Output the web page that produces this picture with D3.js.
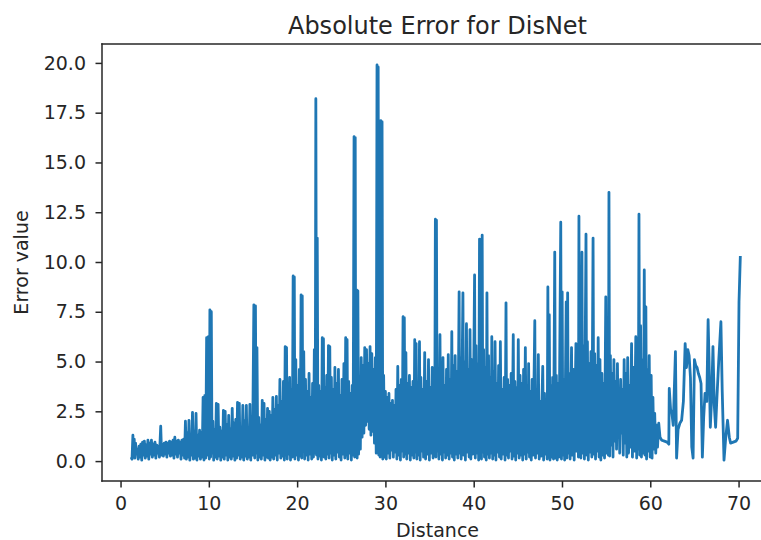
<!DOCTYPE html>
<html lang="en">
<head>
<meta charset="utf-8">
<title>Absolute Error for DisNet</title>
<script src="https://d3js.org/d3.v7.min.js"></script>
<style>
  html, body { margin: 0; padding: 0; overflow: hidden; background: #fff; }
  svg { display: block; }
  text { font-family: "DejaVu Sans", sans-serif; fill: #262626; }
</style>
</head>
<body>
<script>

// distance (x), in order
var distance = [
  // 1 - 7
  1.20,1.30,1.40,1.48,1.55,1.62,1.70,1.80,1.90,2.00,
  2.10,2.20,2.30,2.40,2.50,2.60,2.70,2.80,2.90,3.00,
  3.10,3.20,3.30,3.40,3.50,3.60,3.70,3.80,3.90,4.00,
  4.10,4.20,4.30,4.40,4.55,4.65,4.75,4.85,4.95,5.05,
  5.15,5.25,5.35,5.45,5.55,5.65,5.75,5.85,5.95,6.05,
  6.15,6.25,6.35,6.45,6.55,6.65,6.75,6.85,6.95,7.05,
  7.15,7.25,
  // 7 - 17
  7.35,7.45,7.55,7.65,7.75,7.85,7.95,8.05,8.15,8.25,
  8.35,8.45,8.55,8.65,8.75,8.85,8.95,9.05,9.15,9.25,
  9.35,9.45,9.55,9.65,9.75,9.85,9.95,10.05,10.12,10.20,
  10.28,10.36,10.45,10.55,10.65,10.75,10.85,10.95,11.05,11.15,
  11.25,11.35,11.45,11.55,11.65,11.75,11.85,11.95,12.05,12.15,
  12.25,12.35,12.45,12.55,12.65,12.75,12.85,12.95,13.05,13.15,
  13.25,13.35,13.45,13.55,13.65,13.75,13.85,13.95,14.05,14.15,
  14.25,14.35,14.45,14.55,14.65,14.75,14.85,14.95,15.10,15.20,
  15.28,15.36,15.45,15.55,15.65,15.75,15.85,15.95,16.05,16.15,
  16.25,16.35,16.45,16.55,16.65,16.75,16.85,16.95,
  // 17 - 27
  17.05,17.15,17.25,17.35,17.45,17.55,17.65,17.75,17.85,17.95,
  18.05,18.15,18.25,18.35,18.45,18.55,18.65,18.72,18.80,18.88,
  18.96,19.05,19.15,19.25,19.35,19.45,19.55,19.62,19.68,19.75,
  19.85,19.95,20.05,20.15,20.25,20.35,20.45,20.52,20.58,20.65,
  20.75,20.85,20.95,21.05,21.15,21.25,21.35,21.45,21.55,21.65,
  21.75,21.85,21.95,22.05,22.12,22.20,22.28,22.36,22.45,22.55,
  22.65,22.75,22.85,22.92,22.98,23.05,23.15,23.25,23.35,23.45,
  23.55,23.62,23.70,23.78,23.88,23.98,24.08,24.18,24.28,24.38,
  24.48,24.58,24.68,24.78,24.88,24.98,25.08,25.18,25.30,25.40,
  25.50,25.58,25.66,25.74,25.84,25.94,26.04,26.14,26.24,26.34,
  26.45,26.52,26.58,26.64,26.72,26.80,26.88,26.96,27.06,
  // 27 - 30
  27.16,27.26,27.36,27.46,27.56,27.66,27.76,27.86,27.96,28.06,
  28.16,28.26,28.36,28.46,28.56,28.66,28.76,28.86,28.96,29.05,
  29.12,29.18,29.25,29.32,29.40,29.48,29.56,29.62,29.70,29.80,
  // 30 - 47
  29.90,30.00,30.10,30.20,30.30,30.40,30.50,30.60,30.70,30.80,
  30.90,31.00,31.10,31.20,31.30,31.40,31.50,31.60,31.70,31.80,
  31.90,32.00,32.07,32.14,32.22,32.32,32.42,32.52,32.62,32.72,
  32.82,32.92,33.02,33.12,33.22,33.32,33.40,33.48,33.56,33.66,
  33.76,33.86,33.94,34.02,34.12,34.22,34.32,34.45,34.55,34.65,
  34.75,34.88,34.98,35.08,35.18,35.30,35.40,35.50,35.58,35.66,
  35.72,35.78,35.86,35.96,36.06,36.18,36.26,36.36,36.46,36.52,
  36.62,36.72,36.82,36.92,37.02,37.12,37.22,37.32,37.42,37.52,
  37.60,37.70,37.80,37.90,38.00,38.10,38.20,38.35,38.42,38.50,
  38.58,38.78,38.86,38.96,39.06,39.18,39.28,39.38,39.48,39.58,
  39.68,39.78,39.88,40.00,40.10,40.18,40.26,40.36,40.46,40.56,
  40.66,40.72,40.80,40.88,40.96,41.04,41.12,41.22,41.32,41.42,
  41.50,41.58,41.68,41.78,41.88,41.98,42.05,42.15,42.25,42.35,
  42.42,42.52,42.62,42.72,42.82,42.92,43.02,43.12,43.22,43.32,
  43.45,43.55,43.66,43.74,43.84,43.94,44.04,44.14,44.24,44.34,
  44.48,44.56,44.66,44.76,44.86,44.96,45.05,45.15,45.25,45.35,
  45.45,45.55,45.65,45.75,45.85,45.95,46.05,46.15,46.22,46.32,
  46.42,46.52,46.62,46.72,46.92,47.00,47.10,47.20,47.32,47.42,
  // 47 - 61
  47.52,47.62,47.72,47.82,47.92,48.02,48.12,48.22,48.32,48.40,
  48.48,48.56,48.64,48.74,48.84,48.94,49.04,49.18,49.26,49.36,
  49.46,49.56,49.66,49.86,49.94,50.02,50.10,50.20,50.30,50.48,
  50.56,50.64,50.72,50.82,50.92,51.08,51.18,51.28,51.38,51.58,
  51.66,51.76,51.86,51.92,51.98,52.06,52.14,52.26,52.34,52.44,
  52.54,52.72,52.80,52.88,52.98,53.08,53.18,53.28,53.38,53.52,
  53.60,53.70,53.80,53.90,54.00,54.10,54.20,54.30,54.40,54.52,
  54.62,54.72,54.82,54.96,55.06,55.18,55.26,55.32,55.40,55.48,
  55.58,55.68,55.78,55.88,55.98,56.08,56.18,56.28,56.38,56.44,
  56.54,56.64,56.74,56.84,56.94,57.04,57.14,57.24,57.34,57.44,
  57.54,57.64,57.74,57.88,57.98,58.10,58.20,58.36,58.46,58.56,
  58.64,58.72,58.80,58.90,59.00,59.12,59.22,59.32,59.40,59.50,
  59.58,59.68,59.78,59.88,59.98,60.10,60.20,60.30,60.40,60.50,
  60.62,60.72,60.82,60.96,61.10,
  // 61 - 70
  61.30,61.60,61.90,62.10,62.15,62.30,62.45,62.60,62.85,62.98,
  63.15,63.35,63.55,63.75,63.95,64.10,64.25,64.40,64.55,64.70,
  64.85,65.00,65.15,65.30,65.45,65.60,65.75,65.90,66.05,66.20,
  66.40,66.55,66.65,66.80,66.95,67.10,67.25,67.40,67.55,67.75,
  68.00,68.15,68.35,68.55,68.75,68.95,69.10,69.40,69.70,69.90,
  70.05,70.20
];

// absolute error (y), same order as distance
var absError = [
  // 1 - 7
  0.20,0.10,1.30,0.30,1.10,0.15,0.90,0.40,0.60,0.10,
  0.75,0.20,0.85,0.05,0.95,0.30,1.00,0.15,0.80,0.25,
  1.05,0.10,0.90,0.35,1.05,0.20,0.85,0.30,0.95,0.15,
  0.80,0.40,0.75,0.20,1.75,0.30,0.85,0.25,0.90,0.35,
  0.95,0.20,0.90,0.40,1.00,0.25,0.95,0.30,1.05,0.15,
  1.20,0.35,1.00,0.20,1.05,0.40,0.95,0.10,1.05,0.30,
  1.10,0.15,
  // 7 - 17
  2.00,0.10,1.40,0.20,2.05,0.05,1.20,0.30,2.45,0.10,
  1.50,0.15,2.40,0.05,1.30,0.25,1.55,0.10,1.45,0.20,
  3.20,0.05,3.30,0.15,6.20,0.30,6.25,0.10,7.60,0.20,
  7.50,0.40,2.00,0.05,1.60,0.20,2.90,0.10,2.85,0.25,
  1.70,0.05,1.50,0.20,2.55,0.10,2.50,0.30,1.80,0.05,
  2.30,0.20,1.60,0.10,2.65,0.25,1.90,0.05,2.10,0.15,
  2.95,0.30,2.90,0.10,1.70,0.20,2.80,0.05,2.00,0.25,
  2.80,0.10,1.60,0.20,2.85,0.05,1.90,0.30,7.85,0.15,
  7.80,0.40,5.70,0.05,2.20,0.20,1.80,0.10,3.05,0.30,
  2.90,0.05,2.10,0.20,2.65,0.15,2.50,0.05,
  // 17 - 27
  2.30,0.20,3.20,0.10,2.60,0.30,3.25,0.05,2.80,0.40,
  4.10,0.15,3.00,0.25,4.00,0.05,5.75,0.30,5.70,0.10,
  3.40,0.35,4.20,0.05,3.60,0.20,9.30,0.40,9.25,0.10,
  5.10,0.30,3.80,0.05,4.60,0.25,8.35,0.15,8.30,0.50,
  5.50,0.10,4.10,0.30,3.50,0.05,4.40,0.35,3.20,0.10,
  3.90,0.20,5.60,0.40,18.20,0.30,11.20,0.10,3.80,0.25,
  3.50,0.05,6.20,0.40,6.15,0.20,3.70,0.10,4.30,0.35,
  5.80,0.15,5.75,0.40,4.20,0.05,3.60,0.30,4.70,0.10,
  3.90,0.45,4.60,0.20,3.30,0.05,4.10,0.35,4.90,0.15,
  6.20,0.30,6.10,0.10,4.00,0.40,3.40,0.05,3.80,0.30,
  16.30,0.20,16.25,0.50,8.60,0.15,8.55,0.35,3.90,
  // 27 - 30
  0.60,5.20,1.20,4.80,1.40,5.70,1.80,5.60,2.00,4.90,
  1.60,5.75,1.30,5.40,1.50,4.60,0.90,5.20,0.40,19.90,
  0.50,19.80,0.30,8.00,0.20,17.10,0.35,17.05,0.10,4.30,
  // 30 - 47
  0.20,3.50,0.10,3.20,0.40,3.40,0.15,2.90,0.55,3.05,
  0.20,2.80,0.45,3.60,0.10,4.75,0.30,3.80,0.05,4.10,
  0.50,7.25,0.20,7.20,0.35,5.45,0.10,3.90,0.40,4.30,
  0.05,3.70,0.30,4.00,0.15,6.10,0.45,5.90,0.10,3.80,
  0.30,6.00,0.05,4.20,0.50,3.60,0.20,5.45,0.10,4.00,
  0.35,5.10,0.05,3.70,0.40,4.70,0.15,3.90,0.30,12.15,
  0.20,12.10,0.50,4.20,0.10,6.35,0.35,4.40,0.05,5.20,
  0.45,3.80,0.15,4.60,0.30,5.35,0.10,4.10,0.40,6.50,
  0.20,4.80,0.05,5.30,0.35,4.50,0.15,8.50,0.40,5.20,
  0.10,8.45,0.30,5.00,0.05,6.90,0.45,4.60,0.20,6.60,
  0.10,5.10,0.35,4.40,9.35,0.15,5.80,0.40,4.90,0.05,
  11.15,0.30,10.90,0.10,11.35,0.45,5.60,0.20,4.70,0.05,
  8.45,0.35,5.30,0.15,4.20,0.40,6.25,0.10,4.50,0.30,
  6.00,0.05,3.90,0.45,4.80,0.20,6.00,0.10,3.60,0.35,
  4.20,0.05,7.95,0.30,4.10,0.15,3.80,0.50,4.40,0.10,
  6.35,0.25,4.00,0.05,3.70,0.40,6.10,0.15,4.30,0.30,
  3.90,0.05,4.60,0.35,5.70,0.10,3.80,0.45,4.90,0.20,
  3.50,0.05,4.10,0.30,7.05,0.15,3.60,0.40,5.35,0.10,
  // 47 - 61
  3.00,0.25,2.80,4.75,0.05,3.40,0.35,3.10,0.10,8.75,
  0.30,7.35,0.05,3.80,0.20,4.20,0.10,10.50,0.15,4.30,
  0.05,3.90,0.20,12.00,0.10,8.50,0.30,4.10,0.05,8.00,
  0.15,8.45,0.40,4.40,0.10,5.70,0.30,4.60,0.05,5.90,
  0.50,5.20,0.20,12.30,0.60,6.00,0.15,10.50,0.40,5.80,
  0.10,11.40,0.30,6.00,0.05,4.90,0.45,5.50,0.20,11.20,
  0.35,5.40,0.10,4.80,0.50,6.20,0.20,5.10,0.05,4.40,
  0.30,3.90,0.15,8.25,0.40,7.20,0.30,13.50,0.25,5.30,
  0.80,4.40,0.20,5.10,1.00,4.00,0.60,4.90,1.20,3.05,
  0.40,4.10,1.40,3.60,0.30,5.10,0.90,4.40,0.20,5.20,
  0.40,3.80,0.70,5.90,0.20,4.70,0.50,6.25,0.15,5.00,
  0.60,12.40,0.30,6.80,0.20,5.10,0.40,9.60,0.30,7.75,
  0.10,4.60,0.50,5.30,0.20,4.30,0.15,3.20,0.60,2.40,
  0.40,1.80,0.70,1.90,1.20,
  // 61 - 70
  1.05,1.00,0.95,0.85,3.65,2.60,2.40,1.80,5.50,0.15,
  1.60,1.90,2.05,3.00,5.90,4.70,5.60,5.30,4.20,0.70,
  0.15,5.10,4.80,4.70,4.40,4.20,3.90,0.20,2.20,3.40,
  3.00,7.10,5.20,1.70,3.20,5.75,2.80,1.70,3.20,5.00,
  7.00,3.50,0.05,1.20,2.05,1.20,0.90,0.95,1.00,1.15,
  8.00,10.30
];

var xTicks = [0, 10, 20, 30, 40, 50, 60, 70];
var yTicks = [0, 2.5, 5, 7.5, 10, 12.5, 15, 17.5, 20];

var w = 761;
var h = 540;
var plot = {left: 102, right: 773, top: 44, bottom: 481};

var points = d3.zip(distance, absError);

var xScale = d3.scaleLinear()
  .domain([-2.1, 73.9])
  .range([plot.left, plot.right]);

var yScale = d3.scaleLinear()
  .domain([-1.0, 20.95])
  .range([plot.bottom, plot.top]);

var svg = d3.select("body")
  .append("svg")
  .attr("width", w)
  .attr("height", h);

// the line
var line = d3.line()
  .x(d => xScale(d[0]))
  .y(d => yScale(d[1]));

svg.append("path")
  .datum(points)
  .attr("d", line)
  .attr("fill", "none")
  .attr("stroke", "#1f77b4")
  .attr("stroke-width", 2.8)
  .attr("stroke-linejoin", "round");

// axes
var xAxis = d3.axisBottom(xScale)
  .tickValues(xTicks)
  .tickFormat(d3.format("d"))
  .tickSize(6.5)
  .tickPadding(9);

var yAxis = d3.axisLeft(yScale)
  .tickValues(yTicks)
  .tickFormat(d3.format(".1f"))
  .tickSize(6.5)
  .tickPadding(9.5);

var gx = svg.append("g")
  .attr("transform", `translate(0, ${plot.bottom})`)
  .call(xAxis);

var gy = svg.append("g")
  .attr("transform", `translate(${plot.left}, 0)`)
  .call(yAxis);

[gx, gy].forEach(function (g) {
  g.select(".domain").remove();
  g.selectAll(".tick line").attr("stroke", "#262626").attr("stroke-width", 1.5);
  g.selectAll(".tick text")
    .style("font-family", "DejaVu Sans, sans-serif")
    .style("font-size", "19px")
    .attr("fill", "#262626");
});

// spines: left, bottom, top (the right one is cut off in the original)
var spines = [
  [plot.left, plot.top, plot.left, plot.bottom],
  [plot.left, plot.bottom, w, plot.bottom],
  [plot.left, plot.top, w, plot.top]
];

svg.selectAll(".spine")
  .data(spines)
  .enter()
  .append("line")
  .attr("class", "spine")
  .attr("x1", d => d[0])
  .attr("y1", d => d[1])
  .attr("x2", d => d[2])
  .attr("y2", d => d[3])
  .attr("stroke", "#262626")
  .attr("stroke-width", 1.5)
  .attr("stroke-linecap", "square");

// labels
svg.append("text")
  .attr("x", (plot.left + plot.right) / 2)
  .attr("y", 34)
  .attr("text-anchor", "middle")
  .style("font-size", "24px")
  .text("Absolute Error for DisNet");

svg.append("text")
  .attr("x", (plot.left + plot.right) / 2)
  .attr("y", 537)
  .attr("text-anchor", "middle")
  .style("font-size", "19px")
  .text("Distance");

svg.append("text")
  .attr("transform", `translate(28, ${(plot.top + plot.bottom) / 2}) rotate(-90)`)
  .attr("text-anchor", "middle")
  .style("font-size", "19px")
  .text("Error value");

</script>
</body>
</html>
